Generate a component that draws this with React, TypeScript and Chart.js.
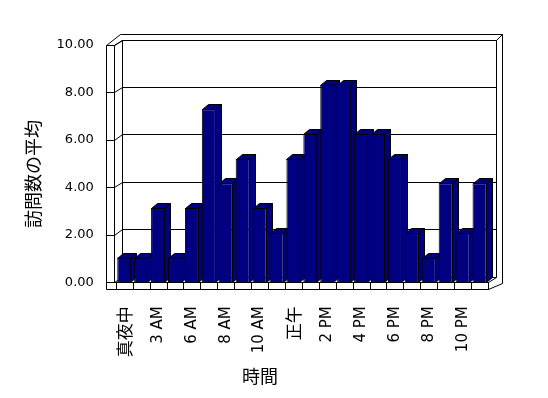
import React, { useEffect, useRef } from "react";
import { Chart, registerables } from "chart.js";

Chart.register(...registerables);

const categories: string[] = [
  "真夜中", "1 AM", "3 AM", "5 AM", "6 AM", "7 AM", "8 AM", "9 AM", "10 AM", "11 AM", "正午",
  "1 PM", "2 PM", "3 PM", "4 PM", "5 PM", "6 PM", "7 PM", "8 PM", "9 PM", "10 PM", "11 PM",
];
const visitAverages: number[] = [
  1.04, 1.04, 3.13, 1.04, 3.13, 7.29, 4.17, 5.21, 3.13, 2.08, 5.21,
  6.25, 8.33, 8.33, 6.25, 6.25, 5.21, 2.08, 1.04, 4.17, 2.08, 4.17,
];
const yMin = 0;
const yMax = 10;
const yStep = 2;
const yTitle = "訪問数の平均";
const xTitle = "時間";

const BAR_COLOR = "#000080";
const LATIN_FONT = "'DejaVu Sans', 'Noto Sans CJK JP', sans-serif";
const CJK_FONT = "'Noto Sans CJK JP', 'DejaVu Sans', sans-serif";

const isCJK = (s: string) => /[\u3000-\u9fff]/.test(s);

const px = (v: number) => Math.round(v) + 0.5;

const walls3d = {
  id: "walls3d",
  beforeDatasetsDraw(chart: any) {
    const { ctx, chartArea: a, scales } = chart;
    const ys = scales.y;
    const xs = scales.x;
    const L = a.left, R = a.right, T = a.top, B = a.bottom;
    const BX = 8, BY = -5.5; // back wall inner offset
    const OX = 14, OY = -11.5; // back wall outer offset
    const FL = 7; // floor thickness
    const W = 10; // left wall outer
    const G = 2; // left wall inner
    ctx.save();
    ctx.strokeStyle = "#000";
    ctx.lineWidth = 1;
    const line = (pts: number[][]) => {
      ctx.beginPath();
      pts.forEach(([x, y], i) => (i ? ctx.lineTo(px(x), px(y)) : ctx.moveTo(px(x), px(y))));
      ctx.stroke();
    };
    // left wall
    line([[L - W, T], [L - W, B + FL]]);
    line([[L - G, T], [L - G, B]]);
    line([[L - W, T], [L - G, T]]);
    line([[L - W, T], [L - W + OX, T + OY]]);
    line([[L - G, T], [L - G + BX, T + BY]]);
    line([[L - G + BX, T + BY], [L - G + BX, B + BY]]);
    // back wall
    line([[L - W + OX, T + OY], [R + OX, T + OY]]);
    line([[R + BX, T + BY], [R + OX, T + OY]]);
    line([[R + OX, T + OY], [R + OX, B + 1]]);
    line([[R + BX, T + BY], [R + BX, B + BY]]);
    // floor
    line([[L - G, B], [R, B]]);
    line([[L - W, B + FL], [R, B + FL]]);
    line([[R, B], [R, B + FL]]);
    line([[R, B + FL], [R + OX, B + 1]]);
    line([[R, B], [R + BX, B + BY]]);
    line([[L - G + BX, B + BY], [R + BX, B + BY]]);
    line([[L - G, B], [L - G + BX, B + BY]]);
    // category dividers on floor front
    const n = categories.length;
    const cw = n > 1 ? xs.getPixelForTick(1) - xs.getPixelForTick(0) : R - L;
    for (let i = 0; i <= n; i++) {
      const bx = i < n ? xs.getPixelForTick(i) - cw / 2 : xs.getPixelForTick(n - 1) + cw / 2;
      line([[bx, B], [bx, B + FL]]);
    }
    // gridlines
    ys.ticks.forEach((t: any) => {
      const yy = ys.getPixelForValue(t.value);
      line([[L - W, yy], [L - G, yy]]);
      if (t.value > yMin) {
        line([[L - G, yy], [L - G + BX, yy + BY], [R + BX, yy + BY]]);
      }
    });
    // 3D faces of bars
    const DX = 6, DY = -5;
    const meta = chart.getDatasetMeta(0);
    ctx.fillStyle = BAR_COLOR;
    meta.data.forEach((el: any) => {
      const { x, y, base, width } = el.getProps(["x", "y", "base", "width"], true);
      const l = Math.round(x - width / 2);
      const r = Math.round(x + width / 2) - 1;
      const top = Math.round(y);
      const bot = Math.round(base);
      const poly = (pts: number[][]) => {
        ctx.beginPath();
        pts.forEach(([qx, qy], i) => (i ? ctx.lineTo(qx + 0.5, qy + 0.5) : ctx.moveTo(qx + 0.5, qy + 0.5)));
        ctx.closePath();
        ctx.fill();
        ctx.stroke();
      };
      poly([[r, top], [r + DX, top + DY], [r + DX, bot + DY], [r, bot]]);
      poly([[l, top], [r, top], [r + DX, top + DY], [l + DX, top + DY]]);
    });
    ctx.restore();
  },
  afterDraw(chart: any) {
    const { ctx } = chart;
    ctx.save();
    ctx.fillStyle = "#000";
    ctx.font = `18px ${CJK_FONT}`;
    ctx.textAlign = "center";
    ctx.textBaseline = "middle";
    ctx.save();
    ctx.translate(33, 174);
    ctx.rotate(-Math.PI / 2);
    ctx.fillText(yTitle, 0, 0);
    ctx.restore();
    ctx.fillText(xTitle, 260, 376);
    ctx.restore();
  },
};

export default function App() {
  const ref = useRef<HTMLCanvasElement | null>(null);
  useEffect(() => {
    if (!ref.current) return;
    Chart.defaults.font.family = LATIN_FONT;
    Chart.defaults.color = "#000";
    const chart = new Chart(ref.current, {
      type: "bar",
      data: {
        labels: categories,
        datasets: [
          {
            data: visitAverages,
            backgroundColor: BAR_COLOR,
            borderColor: "#000",
            borderWidth: 1,
            barPercentage: 0.83,
            categoryPercentage: 1,
          },
        ],
      },
      options: {
        responsive: false,
        animation: false,
        events: [],
        layout: { padding: { left: 0, top: 45, right: 60, bottom: 0 } },
        plugins: { legend: { display: false }, tooltip: { enabled: false } },
        scales: {
          x: {
            grid: { display: false, drawTicks: false },
            border: { display: false },
            afterFit: (s: any) => { s.height = 115.7; },
            ticks: {
              autoSkip: false,
              maxRotation: 90,
              minRotation: 90,
              padding: 24,
              color: "#000",
              callback: (_v: any, i: number) => (i % 2 === 0 ? categories[i] : ""),
              font: (c: any) =>
                isCJK(categories[c.index] || "")
                  ? { family: CJK_FONT, size: 17 }
                  : { family: LATIN_FONT, size: 15 },
            },
          },
          y: {
            min: yMin,
            max: yMax,
            grid: { display: false, drawTicks: false },
            border: { display: false },
            afterFit: (s: any) => { s.width = 115.8; },
            ticks: {
              stepSize: yStep,
              padding: 22,
              color: "#000",
              font: { family: LATIN_FONT, size: 13 },
              callback: (v: any) => Number(v).toFixed(2),
            },
          },
        },
      },
      plugins: [walls3d],
    });
    return () => chart.destroy();
  }, []);
  return (
    <div style={{ position: "fixed", left: 0, top: 0, width: 548, height: 398, background: "#fff" }}>
      <canvas ref={ref} width={548} height={398} />
    </div>
  );
}
